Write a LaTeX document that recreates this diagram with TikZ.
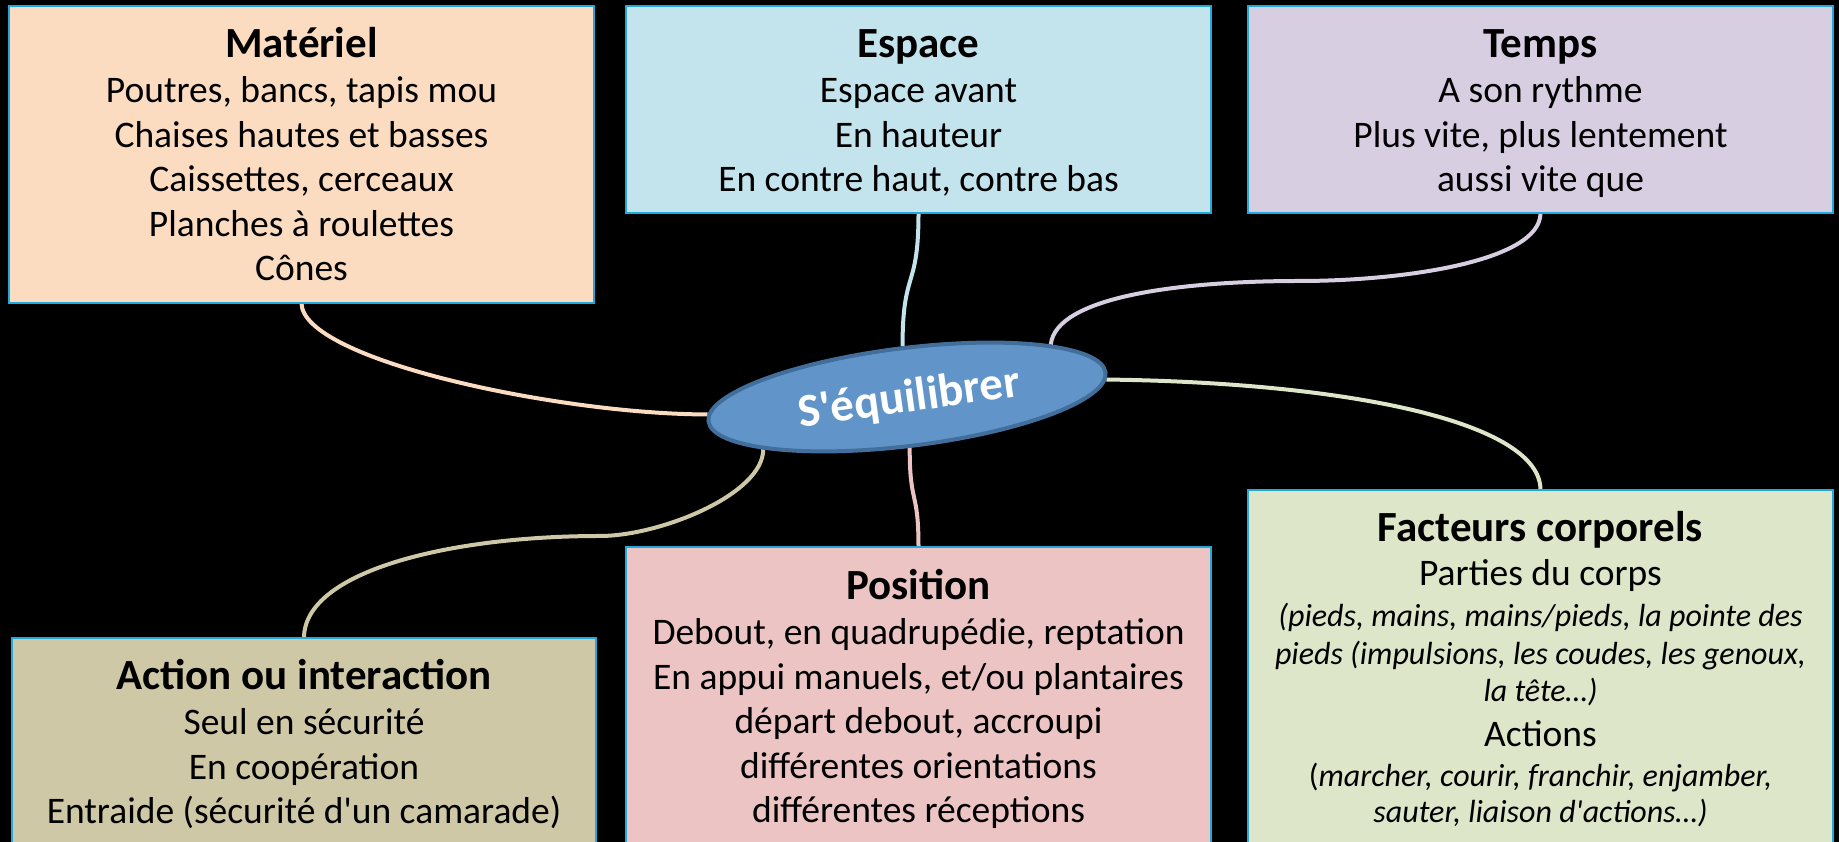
\documentclass[tikz,border=0pt]{standalone}
\usepackage{fontspec}
\setmainfont{Carlito}[Ligatures=TeXOff]
\usetikzlibrary{shapes.geometric,calc}
\definecolor{cMat}{HTML}{FBDCC1}
\definecolor{cEsp}{HTML}{C3E4EC}
\definecolor{cTmp}{HTML}{D7CEE2}
\definecolor{cFac}{HTML}{DDE6C8}
\definecolor{cPos}{HTML}{ECC4C4}
\definecolor{cAct}{HTML}{CEC8A6}
\definecolor{bord}{HTML}{21A9DE}
\definecolor{eFill}{HTML}{6195C9}
\definecolor{eBord}{HTML}{416E9B}
\pgfdeclarelayer{bg}\pgfdeclarelayer{links}
\pgfsetlayers{bg,links,main}
\begin{document}
\begin{tikzpicture}[x=1pt,y=1pt,
  box/.style={draw=bord, line width=2.5pt, rectangle, inner sep=0pt, outer sep=0pt, anchor=north west, minimum width=585pt},
  link/.style={line width=4pt},
  body/.style={anchor=base, inner sep=0pt, font=\fontsize{37.5}{44}\selectfont},
  ttl/.style={anchor=base, inner sep=0pt, font=\fontsize{43}{44}\selectfont\bfseries},
  ital/.style={anchor=base, inner sep=0pt, font=\fontsize{32}{38}\selectfont\itshape}]
\useasboundingbox (0,0) rectangle (1839,842);
\clip (0,0) rectangle (1839,842);
\begin{pgfonlayer}{bg}\fill[black] (0,0) rectangle (1839,842);\end{pgfonlayer}

% boxes
\node[box, fill=cMat, minimum height=297pt] (mat) at (9,836) {};
\node[box, fill=cEsp, minimum height=207pt] (esp) at (626,836) {};
\node[box, fill=cTmp, minimum height=207pt] (tmp) at (1248,836) {};
\node[box, fill=cAct, minimum height=230pt, minimum width=584pt] (act) at (12,204) {};
\node[box, fill=cPos, minimum height=320pt] (pos) at (626,295) {};
\node[box, fill=cFac, minimum height=380pt] (fac) at (1248,352) {};

% central ellipse
\node[ellipse, draw=eBord, line width=4pt, fill=eFill, minimum width=400pt, minimum height=98pt, inner sep=0pt, rotate=7] (ell) at (907,445) {};
\node[text=white, font=\fontsize{47}{50}\selectfont\bfseries, rotate=8, inner sep=0pt] (lbl) at (909,443) {S'équilibrer};

% texts
\node[ttl] (matT) at (301.5,784) {Matériel};
\foreach \t [count=\i] in {{Poutres, bancs, tapis mou},{Chaises hautes et basses},{Caissettes, cerceaux},{Planches à roulettes},{Cônes}}
  \node[body] (mat\i) at (301.5,{784-\i*44.6}) {\t};
\node[ttl] (espT) at (918.5,784) {Espace};
\foreach \t [count=\i] in {{Espace avant},{En hauteur},{En contre haut, contre bas}}
  \node[body] (esp\i) at (918.5,{784-\i*44.6}) {\t};
\node[ttl] (tmpT) at (1540.5,784) {Temps};
\foreach \t [count=\i] in {{A son rythme},{Plus vite, plus lentement},{aussi vite que}}
  \node[body] (tmp\i) at (1540.5,{784-\i*44.6}) {\t};
\node[ttl] (posT) at (918.5,242) {Position};
\foreach \t [count=\i] in {{Debout, en quadrupédie, reptation},{En appui manuels, et/ou plantaires},{départ debout, accroupi},{différentes orientations},{différentes réceptions}}
  \node[body] (pos\i) at (918.5,{242-\i*44.6}) {\t};
\node[ttl] (actT) at (304,152) {Action ou interaction};
\foreach \t [count=\i] in {{Seul en sécurité},{En coopération},{Entraide (sécurité d'un camarade)}}
  \node[body] (act\i) at (304,{152-\i*44.6}) {\t};
\node[ttl] (facT) at (1540.5,300) {Facteurs corporels};
\node[body] (fac1) at (1540.5,256) {Parties du corps};
\node[ital] (fac2) at (1540.5,215) {(pieds, mains, mains/pieds, la pointe des};
\node[ital] (fac3) at (1540.5,177) {pieds (impulsions, les coudes, les genoux,};
\node[ital] (fac4) at (1540.5,140) {la tête…)};
\node[body] (fac5) at (1540.5,95) {Actions};
\node[ital] (fac6) at (1540.5,55) {\upshape(\itshape marcher, courir, franchir, enjamber,};
\node[ital] (fac7) at (1540.5,19) {sauter, liaison d'actions…)};

% connectors
\coordinate (tmid) at (1300,561);
\coordinate (amid) at (600,306);
\begin{pgfonlayer}{links}
\draw[link, cMat] (mat.south) .. controls ($(mat.south)+(0,-57)$) and ($(ell.178)+(-147,0)$) .. (ell.178);
\draw[link, cEsp] (esp.south) to[out=-90,in=90,looseness=1.5] (ell.88);
\draw[link, cTmp] (ell.13) .. controls ($(ell.13)+(5,48)$) and ($(tmid)+(-120,0)$) .. (tmid)
   .. controls ($(tmid)+(100,0)$) and ($(tmp.south)+(0,-49)$) .. (tmp.south);
\draw[link, cFac] (ell.358) .. controls ($(ell.358)+(242,-3)$) and ($(fac.north)+(0,68)$) .. (fac.north);
\draw[link, cPos] (ell.266) to[out=-90,in=90,looseness=1.5] (pos.north);
\draw[link, cAct] (ell.193) .. controls ($(ell.193)+(0,-45)$) and ($(amid)+(60,0)$) .. (amid)
   .. controls ($(amid)+(-150,0)$) and ($(act.north)+(0,67)$) .. (act.north);
\end{pgfonlayer}
\end{tikzpicture}
\end{document}
